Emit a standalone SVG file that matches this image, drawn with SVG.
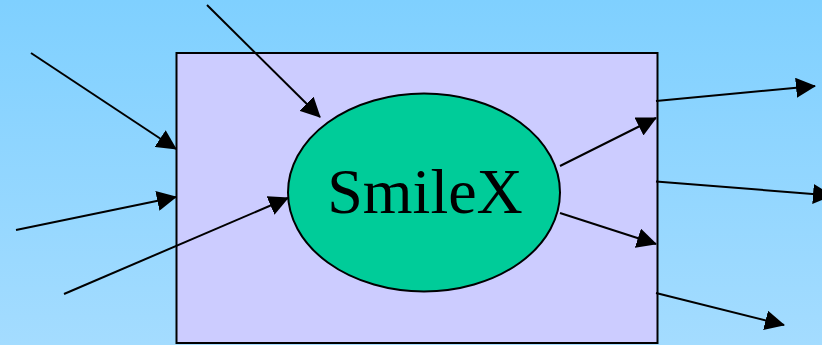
<svg xmlns="http://www.w3.org/2000/svg" width="822" height="345" viewBox="0 0 822 345">
  <defs>
    <linearGradient id="bg" x1="0" y1="0" x2="0" y2="1">
      <stop offset="0" stop-color="#7fd0ff"/>
      <stop offset="1" stop-color="#a4dcff"/>
    </linearGradient>
    <marker id="ah" markerUnits="userSpaceOnUse" markerWidth="20" markerHeight="20" refX="19" refY="10" orient="auto">
      <path d="M0,0 L20,10 L0,20 Z" fill="#000"/>
    </marker>
    <style>
      .conn line { stroke:#000; stroke-width:2; marker-end:url(#ah); }
    </style>
  </defs>
  <rect x="0" y="0" width="822" height="345" fill="url(#bg)"/>
  <g id="box">
    <rect x="176.5" y="53" width="481" height="290" fill="#ccccff" stroke="#000" stroke-width="2"/>
  </g>
  <g id="smilex">
    <ellipse cx="424" cy="192.5" rx="136" ry="99" fill="#00cc99" stroke="#000" stroke-width="2"/>
    <text x="425" y="213" font-family="'Liberation Serif', 'Times New Roman', serif" font-size="64" text-anchor="middle" fill="#000">SmileX</text>
  </g>
  <g id="connectors" class="conn">
    <line x1="31" y1="53" x2="176" y2="149"/>
    <line x1="207" y1="5" x2="320" y2="117"/>
    <line x1="16" y1="230" x2="176" y2="197"/>
    <line x1="64" y1="294" x2="288" y2="198"/>
    <line x1="560" y1="166" x2="656" y2="118"/>
    <line x1="656" y1="101" x2="815" y2="86"/>
    <line x1="656" y1="181.5" x2="832" y2="195.5"/>
    <line x1="560" y1="213" x2="656" y2="244"/>
    <line x1="656" y1="293" x2="784" y2="325"/>
  </g>
</svg>
